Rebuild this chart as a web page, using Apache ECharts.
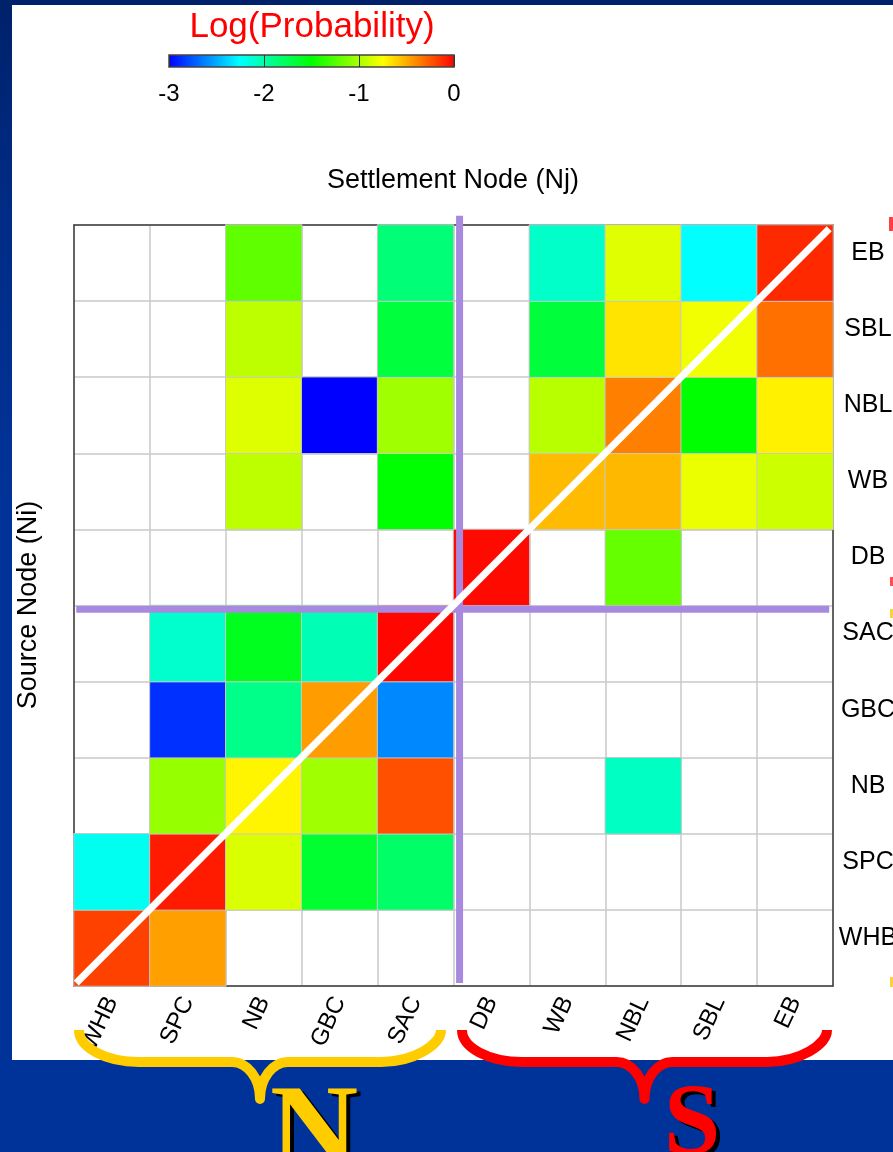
<!DOCTYPE html>
<html>
<head>
<meta charset="utf-8">
<script src="https://cdn.jsdelivr.net/npm/echarts@6/dist/echarts.min.js"></script>
<style>
  html, body { margin: 0; padding: 0; }
  body {
    width: 893px; height: 1152px; overflow: hidden; position: relative;
    background: linear-gradient(to bottom, #00216a 0px, #002c86 220px, #003399 520px, #003399 1152px);
  }
  #panel { position: absolute; left: 12px; top: 5px; width: 881px; height: 1055px; background: #ffffff; }
  #chart { position: absolute; left: 0; top: 0; width: 893px; height: 1152px; }
</style>
</head>
<body>
<div id="panel"></div>
<div id="chart"></div>
<script>
// Nodes, used for both settlement (columns) and source (rows) axes
const nodes = ['WHB', 'SPC', 'NB', 'GBC', 'SAC', 'DB', 'WB', 'NBL', 'SBL', 'EB'];

// log10 probability of settling at each node (columns follow `nodes`), one array per source node
const srcWHB = [-0.19, -0.47, null, null, null, null, null, null, null, null];
const srcSPC = [-2.21, -0.08, -0.86, -1.64, -1.80, null, null, null, null, null];
const srcNB  = [null, -1.06, -0.72, -1.03, -0.235, null, null, -2.07, null, null];
const srcGBC = [null, -2.86, -1.90, -0.46, -2.60, null, null, null, null, null];
const srcSAC = [null, -2.10, -1.59, -2.03, -0.02, null, null, null, null, null];
const srcDB  = [null, null, null, null, null, -0.03, null, -1.20, null, null];
const srcWB  = [null, null, -0.94, null, -1.50, null, -0.55, -0.54, -0.81, -0.90];
const srcNBL = [null, null, -0.85, -3.00, -1.03, null, -0.96, -0.375, -1.50, -0.71];
const srcSBL = [null, null, -0.94, null, -1.68, null, -1.67, -0.67, -0.79, -0.33];
const srcEB  = [null, null, -1.22, null, -1.85, null, -2.09, -0.84, -2.25, -0.12];

// Source rows from the bottom of the y axis upward
const sourceRows = [srcWHB, srcSPC, srcNB, srcGBC, srcSAC, srcDB, srcWB, srcNBL, srcSBL, srcEB];

// Colour ramp for log(probability) from -3 to 0
const rampColors = ['#0000ff', '#00ffff', '#00ff00', '#ffff00', '#ff0000'];
const rampMin = -3;
const rampMax = 0;

const cells = [];
sourceRows.forEach(function (row, yi) {
  row.forEach(function (v, xi) {
    if (v !== null) cells.push([xi, yi, v]);
  });
});

const FONT = '"Liberation Sans", Arial, sans-serif';
const SERIF = '"Liberation Serif", "Times New Roman", serif';

// Curly brace opening upward, drawn under a group of columns
echarts.graphic.registerShape('brace', echarts.graphic.extendShape({
  shape: { xL: 0, xR: 0, yT: 0, yH: 0, yP: 0, rx1: 0, rx2: 0 },
  buildPath: function (ctx, s) {
    const k = 0.5523;
    const xm = (s.xL + s.xR) / 2;
    ctx.moveTo(s.xL, s.yT);
    ctx.bezierCurveTo(s.xL, s.yT + k * (s.yH - s.yT), s.xL + s.rx1 - k * s.rx1, s.yH, s.xL + s.rx1, s.yH);
    ctx.lineTo(xm - s.rx2, s.yH);
    ctx.bezierCurveTo(xm - s.rx2 + k * s.rx2, s.yH, xm, s.yP - k * (s.yP - s.yH), xm, s.yP);
    ctx.bezierCurveTo(xm, s.yP - k * (s.yP - s.yH), xm + s.rx2 - k * s.rx2, s.yH, xm + s.rx2, s.yH);
    ctx.lineTo(s.xR - s.rx1, s.yH);
    ctx.bezierCurveTo(s.xR - s.rx1 + k * s.rx1, s.yH, s.xR, s.yH - k * (s.yH - s.yT), s.xR, s.yT);
  }
}));

const chart = echarts.init(document.getElementById('chart'), null, { renderer: 'canvas' });

const axisLineStyle = { color: '#3c3c3c', width: 1.5 };
const gridLineStyle = { color: '#c8c8c8', width: 1.5 };

chart.setOption({
  animation: false,
  backgroundColor: 'transparent',
  grid: [
    { left: 74, top: 225, width: 759, height: 761, outerBoundsMode: 'none', containLabel: false },
    { left: 74, top: 225, width: 759, height: 761, outerBoundsMode: 'none', containLabel: false },
    {
      left: 169, top: 55, width: 285, height: 12, show: true, outerBoundsMode: 'none', containLabel: false,
      borderColor: '#444', borderWidth: 1.5,
      backgroundColor: new echarts.graphic.LinearGradient(0, 0, 1, 0,
        rampColors.map(function (c, i) { return { offset: i / (rampColors.length - 1), color: c }; }))
    }
  ],
  xAxis: [
    {
      type: 'category', gridIndex: 0, data: nodes, position: 'bottom',
      axisLine: { show: true, lineStyle: axisLineStyle },
      axisTick: { show: false },
      axisLabel: { interval: 0, rotate: 65, margin: 12, fontSize: 24, color: '#000', fontFamily: FONT },
      splitLine: { show: true, interval: 0, lineStyle: gridLineStyle }
    },
    {
      type: 'category', gridIndex: 0, data: nodes, position: 'top',
      axisLine: { show: true, lineStyle: axisLineStyle },
      axisTick: { show: false }, axisLabel: { show: false }, splitLine: { show: false }
    },
    { type: 'value', gridIndex: 1, min: 0, max: 10, show: false },
    {
      type: 'value', gridIndex: 2, min: rampMin, max: rampMax, interval: 1,
      axisLine: { show: false }, axisTick: { show: false },
      axisLabel: { margin: 15, fontSize: 24, color: '#000', fontFamily: FONT },
      splitLine: { show: true, lineStyle: { color: '#333', width: 1 } }
    }
  ],
  yAxis: [
    {
      type: 'category', gridIndex: 0, data: nodes, position: 'right',
      axisLine: { show: true, lineStyle: axisLineStyle },
      axisTick: { show: false },
      axisLabel: { interval: 0, margin: 35, align: 'center', fontSize: 25, color: '#000', fontFamily: FONT,
                   verticalAlign: 'bottom', lineHeight: 20 },
      splitLine: { show: true, interval: 0, lineStyle: gridLineStyle }
    },
    {
      type: 'category', gridIndex: 0, data: nodes, position: 'left',
      axisLine: { show: true, lineStyle: axisLineStyle },
      axisTick: { show: false }, axisLabel: { show: false }, splitLine: { show: false }
    },
    { type: 'value', gridIndex: 1, min: 0, max: 10, show: false },
    { type: 'value', gridIndex: 2, min: 0, max: 1, show: false }
  ],
  visualMap: {
    show: false, type: 'continuous', seriesIndex: 0, dimension: 2,
    min: rampMin, max: rampMax, inRange: { color: rampColors }
  },
  series: [
    {
      type: 'heatmap', xAxisIndex: 0, yAxisIndex: 0, data: cells,
      itemStyle: { borderColor: '#c8c8c8', borderWidth: 1 },
      emphasis: { disabled: true }, silent: true
    },
    {
      // north / south divider, vertical
      type: 'line', xAxisIndex: 2, yAxisIndex: 2, clip: false, silent: true, z: 4,
      symbol: 'none', data: [[5.08, 10.12], [5.08, 0.04]],
      lineStyle: { color: '#a78ae0', width: 7, cap: 'butt' }
    },
    {
      // north / south divider, horizontal
      type: 'line', xAxisIndex: 2, yAxisIndex: 2, clip: false, silent: true, z: 4,
      symbol: 'none', data: [[0.03, 4.95], [9.95, 4.95]],
      lineStyle: { color: '#a78ae0', width: 7, cap: 'butt' }
    },
    {
      // self-recruitment diagonal
      type: 'line', xAxisIndex: 2, yAxisIndex: 2, clip: false, silent: true, z: 5,
      symbol: 'none', data: [[0.03, 0.04], [9.95, 9.95]],
      lineStyle: { color: '#ffffff', width: 7, cap: 'butt' }
    }
  ],
  graphic: [
    {
      type: 'text', x: 312, y: 27, z: 10,
      style: { text: 'Log(Probability)', fill: '#ff0000', font: '35px ' + FONT, align: 'center', verticalAlign: 'middle' }
    },
    {
      type: 'text', x: 453, y: 181, z: 10,
      style: { text: 'Settlement Node (Nj)', fill: '#000', font: '27px ' + FONT, align: 'center', verticalAlign: 'middle' }
    },
    {
      type: 'text', x: 29, y: 605, rotation: Math.PI / 2, z: 10,
      style: { text: 'Source Node (Ni)', fill: '#000', font: '27px ' + FONT, align: 'center', verticalAlign: 'middle' }
    },
    {
      type: 'brace', z: 10,
      shape: { xL: 79, xR: 441, yT: 1030, yH: 1062, yP: 1099, rx1: 60, rx2: 28 },
      style: { fill: null, stroke: '#ffcc00', lineWidth: 10, lineJoin: 'round', lineCap: 'butt' }
    },
    {
      type: 'brace', z: 10,
      shape: { xL: 462, xR: 827, yT: 1030, yH: 1062, yP: 1099, rx1: 60, rx2: 28 },
      style: { fill: null, stroke: '#ff0000', lineWidth: 10, lineJoin: 'round', lineCap: 'butt' }
    },
    {
      type: 'text', x: 318, y: 1140, z: 10,
      style: { text: 'N', fill: '#000', font: 'bold 122px ' + SERIF, align: 'center', verticalAlign: 'middle' }
    },
    {
      type: 'text', x: 314, y: 1137, z: 11,
      style: { text: 'N', fill: '#ffcc00', font: 'bold 122px ' + SERIF, align: 'center', verticalAlign: 'middle' }
    },
    {
      type: 'text', x: 696, y: 1131, z: 10,
      style: { text: 'S', fill: '#000', font: 'bold 102px ' + SERIF, align: 'center', verticalAlign: 'middle' }
    },
    {
      type: 'text', x: 692, y: 1128, z: 11,
      style: { text: 'S', fill: '#ff0000', font: 'bold 102px ' + SERIF, align: 'center', verticalAlign: 'middle' }
    },
    // fragments of the side braces at the right edge
    { type: 'rect', z: 10, shape: { x: 889, y: 217, width: 4, height: 14 }, style: { fill: '#ff4040' } },
    { type: 'rect', z: 10, shape: { x: 890, y: 577, width: 3, height: 9 }, style: { fill: '#ff5050' } },
    { type: 'rect', z: 10, shape: { x: 890, y: 609, width: 3, height: 9 }, style: { fill: '#ffd23a' } },
    { type: 'rect', z: 10, shape: { x: 890, y: 977, width: 3, height: 10 }, style: { fill: '#ffd23a' } }
  ]
});
</script>
</body>
</html>
